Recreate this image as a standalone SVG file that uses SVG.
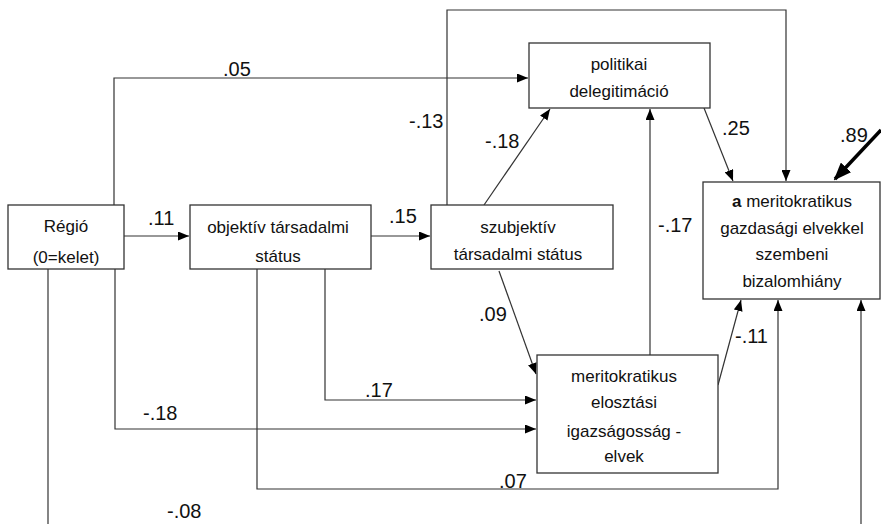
<svg xmlns="http://www.w3.org/2000/svg" width="881" height="524" viewBox="0 0 881 524">
<style>
  .box { fill: #ffffff; stroke: #333333; stroke-width: 1.3; }
  .t { font-family: "Liberation Sans", Arial, sans-serif; font-size: 17px; fill: #111111; text-anchor: middle; }
  .lbl { font-family: "Liberation Sans", Arial, sans-serif; font-size: 20px; fill: #111111; }
  .c { fill: none; stroke: #333333; stroke-width: 1.2; }
  .thick { fill: none; stroke: #000000; stroke-width: 3.5; }
</style>
<defs>
  <marker id="ah" markerUnits="userSpaceOnUse" markerWidth="11" markerHeight="9" refX="11" refY="4.5" orient="auto">
    <path d="M0,0 L11,4.5 L0,9 Z" fill="#000000"/>
  </marker>
  <marker id="ahb" markerUnits="userSpaceOnUse" markerWidth="18" markerHeight="14" refX="16" refY="7" orient="auto">
    <path d="M0,0 L18,7 L0,14 Z" fill="#000000"/>
  </marker>
</defs>
<rect width="881" height="524" fill="#ffffff"/>

<g id="connectors">
  <path class="c" d="M124,236 H189" marker-end="url(#ah)"/>
  <path class="c" d="M371,236 H430" marker-end="url(#ah)"/>
  <path class="c" d="M114,205 V78 H528" marker-end="url(#ah)"/>
  <path class="c" d="M447,205 V10 H786 V181" marker-end="url(#ah)"/>
  <path class="c" d="M484,205 L550,109" marker-end="url(#ah)"/>
  <path class="c" d="M650,355 V109" marker-end="url(#ah)"/>
  <path class="c" d="M704,108 L733,181" marker-end="url(#ah)"/>
  <path class="thick" d="M881,130 L835,179" marker-end="url(#ahb)"/>
  <path class="c" d="M499,271 L536,374" marker-end="url(#ah)"/>
  <path class="c" d="M718,385 L741,300" marker-end="url(#ah)"/>
  <path class="c" d="M325,269 V400 H536" marker-end="url(#ah)"/>
  <path class="c" d="M115,269 V429 H536" marker-end="url(#ah)"/>
  <path class="c" d="M257,269 V489 H778 V300" marker-end="url(#ah)"/>
  <path class="c" d="M48,269 V524"/>
  <path class="c" d="M861,524 V300" marker-end="url(#ah)"/>

  <text class="lbl" x="223" y="76">.05</text>
  <text class="lbl" x="409" y="128">-.13</text>
  <text class="lbl" x="148" y="225">.11</text>
  <text class="lbl" x="389" y="223">.15</text>
  <text class="lbl" x="485" y="148">-.18</text>
  <text class="lbl" x="722" y="135">.25</text>
  <text class="lbl" x="840" y="142">.89</text>
  <text class="lbl" x="658" y="232">-.17</text>
  <text class="lbl" x="479" y="321">.09</text>
  <text class="lbl" x="735" y="343">-.11</text>
  <text class="lbl" x="365" y="397">.17</text>
  <text class="lbl" x="143" y="420">-.18</text>
  <text class="lbl" x="499" y="488">.07</text>
  <text class="lbl" x="167" y="518">-.08</text>
</g>

<g id="regio">
  <rect class="box" x="8" y="205" width="116" height="64"/>
  <text class="t" x="66" y="232">Régió</text>
  <text class="t" x="66" y="263">(0=kelet)</text>
</g>

<g id="objektiv">
  <rect class="box" x="190" y="205" width="181" height="64"/>
  <text class="t" x="278" y="233">objektív társadalmi</text>
  <text class="t" x="278" y="262">státus</text>
</g>

<g id="szubjektiv">
  <rect class="box" x="431" y="205" width="182" height="64"/>
  <text class="t" x="518" y="233">szubjektív</text>
  <text class="t" x="518" y="260">társadalmi státus</text>
</g>

<g id="politikai">
  <rect class="box" x="529" y="43" width="181" height="65"/>
  <text class="t" x="619" y="70">politikai</text>
  <text class="t" x="619" y="97">delegitimáció</text>
</g>

<g id="bizalomhiany">
  <rect class="box" x="703" y="182" width="177" height="117"/>
  <text class="t" x="792" y="207"><tspan font-weight="bold">a</tspan> meritokratikus</text>
  <text class="t" x="792" y="234">gazdasági elvekkel</text>
  <text class="t" x="792" y="260">szembeni</text>
  <text class="t" x="792" y="287">bizalomhiány</text>
</g>

<g id="elosztasi">
  <rect class="box" x="537" y="355" width="181" height="118"/>
  <text class="t" x="624" y="382">meritokratikus</text>
  <text class="t" x="624" y="408">elosztási</text>
  <text class="t" x="624" y="437">igazságosság -</text>
  <text class="t" x="624" y="462">elvek</text>
</g>
</svg>
